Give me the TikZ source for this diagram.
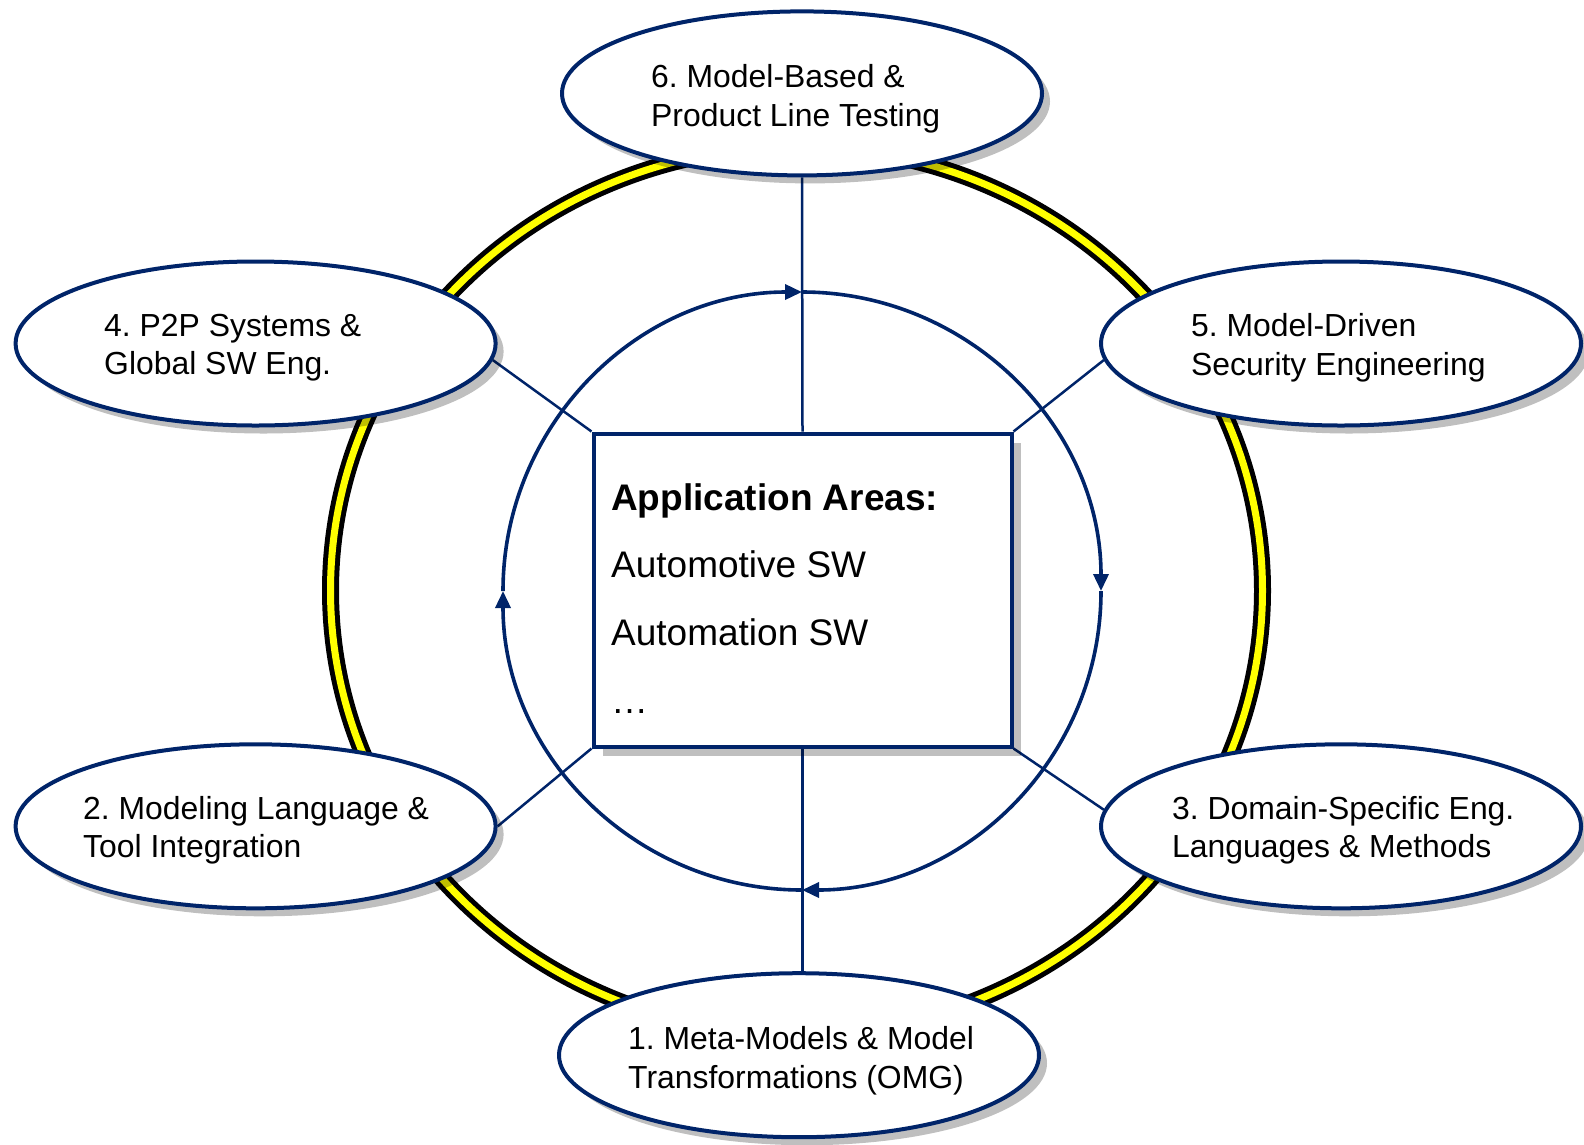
\documentclass[tikz,border=0pt]{standalone}
\usepackage{fontspec}
\setmainfont{Liberation Sans}
\frenchspacing
\usetikzlibrary{arrows.meta,shadows,shapes.geometric,backgrounds}
\definecolor{navy}{RGB}{0,36,105}
\definecolor{ringyellow}{RGB}{255,255,0}
\begin{document}
\begin{tikzpicture}[x=1pt,y=1pt,
  topic/.style={ellipse, draw=navy, line width=4pt, fill=white,
    minimum width=480pt, minimum height=164pt, inner sep=0pt,
    drop shadow={shadow xshift=8pt, shadow yshift=-8pt, fill=black, opacity=0.25}},
  areabox/.style={rectangle, draw=navy, line width=4pt, fill=white,
    minimum width=418pt, minimum height=313pt, inner sep=0pt,
    drop shadow={shadow xshift=9pt, shadow yshift=-9pt, fill=black, opacity=0.25}},
  lbl/.style={anchor=west, align=left, inner sep=0pt, font=\fontsize{31.9}{38.6}\selectfont},
  boxtxt/.style={anchor=base west, inner sep=0pt, font=\fontsize{37}{43}\selectfont},
  conn/.style={draw=navy, line width=2.5pt},
  cycle/.style={draw=navy, line width=3.6pt, -{Triangle[length=17pt,width=15pt]}},
]
\useasboundingbox (0,0) rectangle (1584,-1144);

% central box
\node[areabox] (box) at (802.5,-590) {};
\node[boxtxt, font=\fontsize{37}{43}\selectfont\bfseries] (t0) at (611,-510.5) {Application Areas:};
\node[boxtxt] (t1) at (611,-577.3) {Automotive SW};
\node[boxtxt] (t2) at (611,-645.7) {Automation SW};
\node[boxtxt] (t3) at (611,-713) {…};

% topic ellipses
\node[topic] (e6) at (802,-93.4) {};
\node[topic] (e4) at (255.6,-343.5) {};
\node[topic] (e5) at (1341,-343.5) {};
\node[topic] (e2) at (255.6,-826.3) {};
\node[topic] (e3) at (1341,-826.3) {};
\node[topic] (e1) at (799,-1055.2) {};

\node[lbl] (l6) at (651,-98.5) {6. Model-Based \&\\Product Line Testing};
\node[lbl] (l4) at (104,-347.5) {4. P2P Systems \&\\Global SW Eng.};
\node[lbl] (l5) at (1191,-347.5) {5. Model-Driven\\Security Engineering};
\node[lbl] (l2) at (83,-830.4) {2. Modeling Language \&\\Tool Integration};
\node[lbl] (l3) at (1172,-830.4) {3. Domain-Specific Eng.\\Languages \& Methods};
\node[lbl] (l1) at (628,-1060.7) {1. Meta-Models \& Model\\Transformations (OMG)};

\begin{scope}[on background layer]
  \coordinate (rc) at (796.5,-590.5);
  \coordinate (ic) at (802,-591);
  % outer ring
  \draw[black, line width=17pt] (rc) ellipse[x radius=466pt, y radius=444pt];
  \draw[ringyellow, line width=7pt] (rc) ellipse[x radius=466pt, y radius=444pt];
  % inner cycle (clockwise)
  \draw[cycle] (ic) ++(180:299pt) arc[start angle=180, end angle=90, radius=299pt];
  \draw[cycle] (ic) ++(90:299pt) arc[start angle=90, end angle=0, radius=299pt];
  \draw[cycle] (ic) ++(0:299pt) arc[start angle=0, end angle=-90, radius=299pt];
  \draw[cycle] (ic) ++(-90:299pt) arc[start angle=-90, end angle=-180, radius=299pt];
  % connectors
  \draw[conn] (e6.south) -- (box.north);
  \draw[conn] (box.south) -- (box.south |- e1.north);
  \draw[conn] (e4.-4) -- (box.north west);
  \draw[conn] (e5.184) -- (box.north east);
  \draw[conn] (e2.0) -- (box.south west);
  \draw[conn] (e3.176) -- (box.south east);
\end{scope}
\end{tikzpicture}
\end{document}
